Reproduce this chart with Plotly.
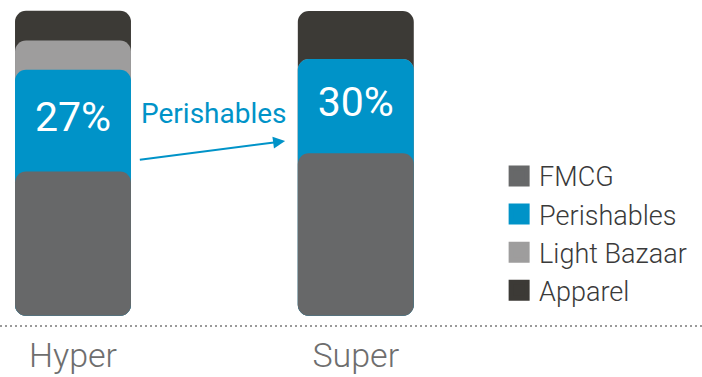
import plotly.graph_objects as go

# ---- data ----
categories = ["Hyper", "Super"]
series_names = ["FMCG", "Perishables", "Light Bazaar", "Apparel"]
fmcg = [47.3, 53.3]
perishables = [33.4, 30.9]
light_bazaar = [9.6, 0.0]
apparel = [9.75, 15.8]
perishables_labels = ["27%", "30%"]
arrow_label = "Perishables"

colors = {
    "FMCG": "#676869",
    "Perishables": "#0093C8",
    "Light Bazaar": "#9E9D9D",
    "Apparel": "#3C3A36",
}

FONT = "Roboto"

# cumulative tops
top_fmcg = fmcg
top_per = [a + b for a, b in zip(top_fmcg, perishables)]
top_lb = [a + b for a, b in zip(top_per, light_bazaar)]
top_app = [a + b for a, b in zip(top_lb, apparel)]

BAR_W = 0.41
fig = go.Figure()

def seg_bar(name, tops):
    # explicit base -> all four corners rounded, segments overlap like cards
    fig.add_trace(go.Bar(
        x=categories, y=tops, base=[0] * len(tops),
        width=BAR_W, marker=dict(color=colors[name], line=dict(width=0)),
        name=name, showlegend=False, hoverinfo="skip",
    ))

seg_bar("Apparel", top_app)
seg_bar("Light Bazaar", top_lb)
seg_bar("Perishables", top_per)
seg_bar("FMCG", top_fmcg)

# percentage labels in the middle of the visible Perishables block
fig.add_trace(go.Scatter(
    x=categories,
    y=[f + p / 2 for f, p in zip(fmcg, perishables)],
    mode="text", text=perishables_labels,
    textfont=dict(family=FONT, size=41, color="white"),
    showlegend=False, hoverinfo="skip",
))

# legend entries
for name in series_names:
    fig.add_trace(go.Scatter(
        x=[None], y=[None], mode="markers", name=name,
        marker=dict(symbol="square", size=16, color=colors[name],
                    line=dict(width=5, color=colors[name])),
    ))

fig.add_annotation(
    x=0.5, y=66.2, xref="x", yref="y", text=arrow_label, showarrow=False,
    font=dict(family=FONT, size=28, color=colors["Perishables"]),
)
fig.add_annotation(
    x=0.75, y=57.3, ax=0.231, ay=51.1, xref="x", yref="y", axref="x", ayref="y",
    text="", showarrow=True, arrowhead=2, arrowsize=1.2, arrowwidth=2,
    arrowcolor=colors["Perishables"],
)

fig.add_shape(
    type="line", xref="paper", yref="paper", x0=0, x1=1, y0=0, y1=0,
    line=dict(color="#9A9A9A", width=2, dash="2px,3px"),
)

fig.update_layout(
    width=702, height=377,
    margin=dict(l=0, r=0, t=0, b=51),
    paper_bgcolor="white", plot_bgcolor="white",
    barmode="overlay", barcornerradius=11,
    showlegend=True,
    legend=dict(
        x=0.711, xanchor="left", y=0.534, yanchor="top",
        traceorder="normal", bgcolor="rgba(0,0,0,0)",
        font=dict(family=FONT, size=27, color="#3A3A3A", weight=300),
    ),
    xaxis=dict(
        type="category", range=[-0.2581, 2.2242],
        showgrid=False, zeroline=False, showline=False, ticks="",
        tickfont=dict(family=FONT, size=34, color="#6E6E6E", weight=300),
        ticklabelstandoff=6,
        fixedrange=True,
    ),
    yaxis=dict(
        range=[-3.4, 103.6], visible=False, fixedrange=True,
    ),
)

fig.write_html("out.html")
